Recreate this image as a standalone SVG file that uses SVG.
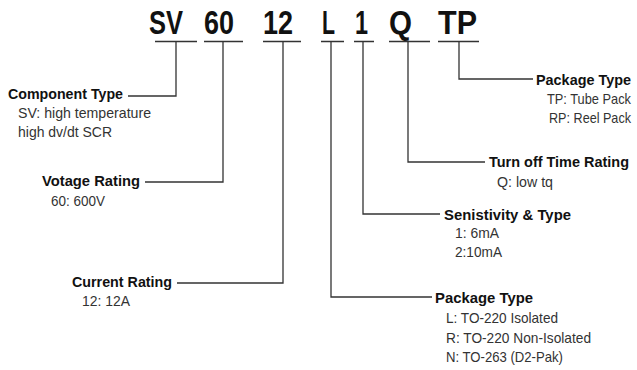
<svg xmlns="http://www.w3.org/2000/svg" width="637" height="370" viewBox="0 0 637 370">
<style>
.big{font-family:"Liberation Sans",Arial,sans-serif;font-weight:bold;font-size:34px;fill:#111}
.h{font-family:"Liberation Sans",Arial,sans-serif;font-weight:bold;font-size:15.5px;fill:#111}
.s{font-family:"Liberation Sans",Arial,sans-serif;font-size:14.5px;fill:#333}
.e{text-anchor:end}
.ln{fill:none;stroke:#333;stroke-width:1.3}
</style>
<rect width="637" height="370" fill="#fff"/>
<g id="code">
<text class="big" x="149" y="34" textLength="34" lengthAdjust="spacingAndGlyphs">SV</text>
<text class="big" x="204" y="34" textLength="30" lengthAdjust="spacingAndGlyphs">60</text>
<text class="big" x="263" y="34" textLength="30" lengthAdjust="spacingAndGlyphs">12</text>
<text class="big" x="322" y="34" textLength="13" lengthAdjust="spacingAndGlyphs">L</text>
<text class="big" x="355" y="34" textLength="13" lengthAdjust="spacingAndGlyphs">1</text>
<text class="big" x="389" y="34" textLength="23" lengthAdjust="spacingAndGlyphs">Q</text>
<text class="big" x="438" y="34" textLength="39" lengthAdjust="spacingAndGlyphs">TP</text>
</g>
<g id="connectors">
<path class="ln" d="M155,41.5H197M204,41.5H243M263,41.5H301M321,41.5H344M354,41.5H374M389,41.5H430M438,41.5H479"/>
<path class="ln" d="M176,42V96H128"/>
<path class="ln" d="M223,42V182H145"/>
<path class="ln" d="M283,42V283H177"/>
<path class="ln" d="M331,42V297H432"/>
<path class="ln" d="M363,42V214H440"/>
<path class="ln" d="M408,42V162H485"/>
<path class="ln" d="M459,42V79H533"/>
</g>
<g id="component-type">
<text class="h" x="8" y="99" textLength="115" lengthAdjust="spacingAndGlyphs">Component Type</text>
<text class="s" x="18" y="118" textLength="133" lengthAdjust="spacingAndGlyphs">SV: high temperature</text>
<text class="s" x="18" y="137" textLength="94" lengthAdjust="spacingAndGlyphs">high dv/dt SCR</text>
</g>
<g id="voltage-rating">
<text class="h" x="42" y="186" textLength="98" lengthAdjust="spacingAndGlyphs">Votage Rating</text>
<text class="s" x="51" y="206" textLength="54" lengthAdjust="spacingAndGlyphs">60: 600V</text>
</g>
<g id="current-rating">
<text class="h" x="72" y="287" textLength="100" lengthAdjust="spacingAndGlyphs">Current Rating</text>
<text class="s" x="82" y="306" textLength="48" lengthAdjust="spacingAndGlyphs">12: 12A</text>
</g>
<g id="package-type-pack">
<text class="h e" x="631" y="85" textLength="95" lengthAdjust="spacingAndGlyphs">Package Type</text>
<text class="s e" x="631" y="104" textLength="84" lengthAdjust="spacingAndGlyphs">TP: Tube Pack</text>
<text class="s e" x="631" y="123" textLength="82" lengthAdjust="spacingAndGlyphs">RP: Reel Pack</text>
</g>
<g id="turn-off-time">
<text class="h e" x="629" y="167" textLength="140" lengthAdjust="spacingAndGlyphs">Turn off Time Rating</text>
<text class="s" x="497" y="187" textLength="56" lengthAdjust="spacingAndGlyphs">Q: low tq</text>
</g>
<g id="sensitivity">
<text class="h" x="444" y="220" textLength="127" lengthAdjust="spacingAndGlyphs">Senistivity &amp; Type</text>
<text class="s" x="455" y="238" textLength="44" lengthAdjust="spacingAndGlyphs">1: 6mA</text>
<text class="s" x="455" y="257" textLength="47" lengthAdjust="spacingAndGlyphs">2:10mA</text>
</g>
<g id="package-type">
<text class="h" x="435" y="303" textLength="98" lengthAdjust="spacingAndGlyphs">Package Type</text>
<text class="s" x="446" y="323" textLength="112" lengthAdjust="spacingAndGlyphs">L: TO-220 Isolated</text>
<text class="s" x="446" y="343" textLength="145" lengthAdjust="spacingAndGlyphs">R: TO-220 Non-Isolated</text>
<text class="s" x="446" y="362" textLength="117" lengthAdjust="spacingAndGlyphs">N: TO-263 (D2-Pak)</text>
</g>
</svg>
